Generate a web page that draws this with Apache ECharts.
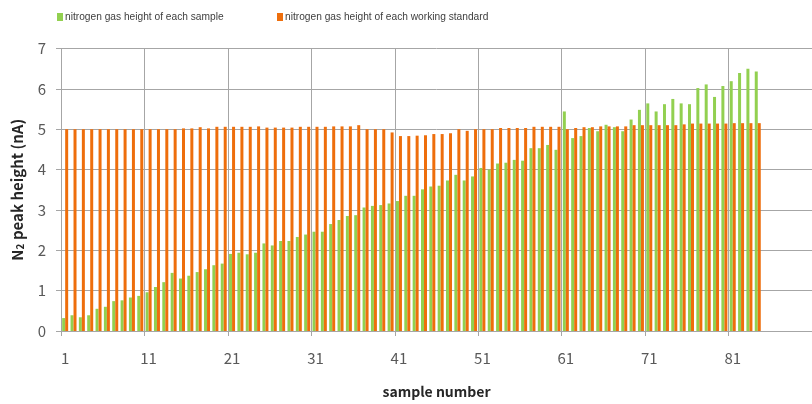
<!DOCTYPE html>
<html>
<head>
<meta charset="utf-8">
<script src="https://cdn.jsdelivr.net/npm/echarts@6/dist/echarts.min.js"></script>
<style>html,body{margin:0;padding:0;background:#fff}#c{width:812px;height:404px}</style>
</head>
<body>
<div id="c"></div>
<script>
// sample numbers (axis extends a little past the last sample)
const categories = [];
for (let i = 1; i <= 90; i++) categories.push(String(i));

const sampleHeight = [
  0.32, 0.39, 0.34, 0.39, 0.55, 0.60, 0.74, 0.76, 0.83, 0.87,
  0.96, 1.09, 1.21, 1.44, 1.30, 1.37, 1.46, 1.53, 1.63, 1.67,
  1.91, 1.94, 1.90, 1.94, 2.17, 2.12, 2.23, 2.23, 2.33, 2.39,
  2.46, 2.46, 2.65, 2.75, 2.85, 2.87, 3.06, 3.10, 3.12, 3.16,
  3.22, 3.35, 3.35, 3.51, 3.58, 3.60, 3.73, 3.87, 3.73, 3.83,
  4.04, 4.00, 4.15, 4.17, 4.24, 4.22, 4.53, 4.53, 4.61, 4.49,
  5.44, 4.78, 4.83, 5.03, 4.95, 5.11, 5.05, 4.95, 5.24, 5.48,
  5.64, 5.44, 5.62, 5.75, 5.64, 5.62, 6.02, 6.11, 5.80, 6.07,
  6.19, 6.39, 6.50, 6.43
];

const standardHeight = [
  5.00, 5.00, 5.00, 5.00, 5.00, 5.00, 5.00, 5.00, 5.00, 5.00,
  5.00, 5.00, 5.00, 5.00, 5.02, 5.02, 5.05, 5.02, 5.06, 5.06,
  5.06, 5.06, 5.06, 5.07, 5.04, 5.04, 5.04, 5.04, 5.06, 5.06,
  5.06, 5.06, 5.07, 5.07, 5.07, 5.10, 5.00, 5.00, 5.00, 4.92,
  4.83, 4.83, 4.84, 4.85, 4.88, 4.88, 4.90, 5.00, 4.96, 5.00,
  5.00, 5.00, 5.03, 5.03, 5.03, 5.03, 5.06, 5.06, 5.06, 5.06,
  5.00, 5.03, 5.05, 5.05, 5.07, 5.07, 5.07, 5.07, 5.10, 5.10,
  5.10, 5.10, 5.10, 5.10, 5.12, 5.14, 5.14, 5.14, 5.14, 5.14,
  5.15, 5.15, 5.15, 5.15
];

const seriesNames = ['nitrogen gas height of each sample', 'nitrogen gas height of each working standard'];

const chart = echarts.init(document.getElementById('c'), null, {renderer: 'canvas'});
const gridColor = '#a6a6a6';
const uiFont = '"Noto Sans CJK KR", "Liberation Sans", sans-serif';
const legendText = {color: '#404040', fontSize: 10.2, fontFamily: '"Liberation Sans", sans-serif', padding: [0, 0, 0, -3]};
chart.setOption({
  animation: false,
  backgroundColor: '#fff',
  legend: [
    {data: [seriesNames[0]], left: 57, top: 12, padding: 0, icon: 'rect', itemWidth: 6, itemHeight: 8, textStyle: legendText},
    {data: [seriesNames[1]], left: 277, top: 12, padding: 0, icon: 'rect', itemWidth: 6, itemHeight: 8, textStyle: legendText}
  ],
  grid: {left: 61, right: -9.5, top: 48.5, bottom: 69.5, containLabel: false},
  xAxis: {
    type: 'category',
    data: categories,
    boundaryGap: true,
    name: 'sample number',
    nameLocation: 'middle',
    nameGap: 54,
    nameTextStyle: {fontSize: 14, fontWeight: 'bold', color: '#262626', fontFamily: uiFont},
    axisLine: {show: true, lineStyle: {color: gridColor, width: 1}},
    axisTick: {show: true, length: 5, interval: (i) => i % 10 === 0, lineStyle: {color: gridColor}},
    axisLabel: {interval: (i) => i % 10 === 0, margin: 20, fontSize: 15, color: '#595959', fontFamily: uiFont},
    splitLine: {show: true, interval: (i) => i % 10 === 0, lineStyle: {color: gridColor, width: 1}}
  },
  yAxis: {
    type: 'value',
    min: 0, max: 7, interval: 1,
    name: '{a|N}{s|2}{a| peak height (nA)}',
    nameLocation: 'middle',
    nameGap: 36,
    nameRotate: 90,
    nameTextStyle: {
      rich: {
        a: {fontSize: 15, fontWeight: 'bold', color: '#262626', fontFamily: uiFont},
        s: {fontSize: 10, fontWeight: 'bold', color: '#262626', fontFamily: uiFont, verticalAlign: 'bottom', padding: [6, 0, 0, 0]}
      }
    },
    axisLine: {show: true, lineStyle: {color: gridColor, width: 1}},
    axisTick: {show: true, length: 5, lineStyle: {color: gridColor}},
    axisLabel: {margin: 15, fontSize: 15, color: '#595959', fontFamily: uiFont},
    splitLine: {show: true, lineStyle: {color: gridColor, width: 1}}
  },
  series: [
    {name: seriesNames[0], type: 'bar', data: sampleHeight, barWidth: 3, barGap: '0%', itemStyle: {color: '#92d050'}},
    {name: seriesNames[1], type: 'bar', data: standardHeight, barWidth: 3, barGap: '0%', itemStyle: {color: '#ee6e0c'}}
  ]
});
</script>
</body>
</html>
